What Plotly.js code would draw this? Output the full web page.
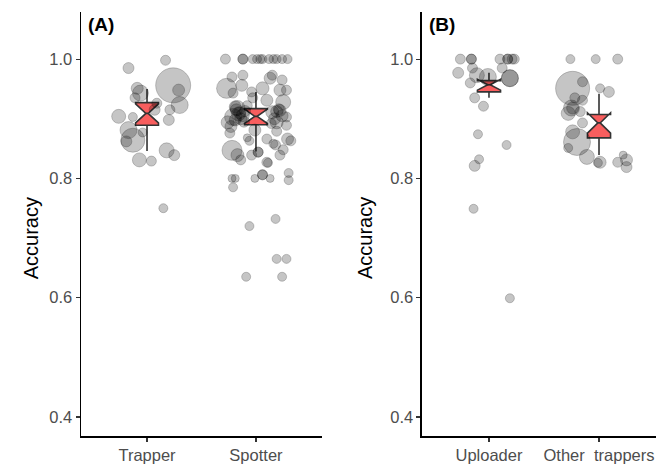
<!DOCTYPE html>
<html>
<head>
<meta charset="utf-8">
<script src="https://cdn.plot.ly/plotly-3.0.1.min.js"></script>
<style>html,body{margin:0;padding:0;background:#fff}#chart{width:656px;height:464px}</style>
</head>
<body>
<div id="chart"></div>
<script>
// ---------- categories ----------
const catsA = ["Trapper", "Spotter"];
const catsB = ["Uploader", "Other  trappers"];
const yTicks = [0.4, 0.6, 0.8, 1.0];
const yTickText = ["0.4", "0.6", "0.8", "1.0"];

// ---------- points: accuracy, jitter offset (category units), point size ----------
const trapperAcc = [0.998,0.985,0.956,0.948,0.923,0.951,0.943,0.935,0.915,0.915,0.898,0.904,0.903,0.881,0.864,0.862,0.877,0.847,0.839,0.831,0.829,0.750,0.926];
const trapperJit = [0.17,-0.17,0.24,0.29,0.30,-0.09,-0.06,-0.11,0.07,0.21,0.20,-0.26,-0.13,-0.17,-0.13,-0.19,-0.04,0.18,0.25,-0.07,0.04,0.15,0.09];
const trapperSize = [10,11,35,12,17,12,16,10,11,10,11,14,9,17,24,11,9,15,11,14,10,9,10];

const spotterAcc = [1.0,1.0,1.0,1.0,1.0,1.0,1.0,1.0,1.0,1.0,1.0,1.0,
  0.973,0.970,0.973,0.968,0.965,0.951,0.956,0.951,0.948,0.948,0.943,0.945,0.935,0.931,0.928,
  0.918,0.915,0.903,0.906,0.894,0.911,0.914,0.903,0.894,0.881,0.889,
  0.910,0.920,0.895,0.900,0.912,0.905,
  0.908,0.898,0.913,0.887,0.922,0.900,0.916,0.892,
  0.876,0.863,0.863,0.866,0.868,0.866,0.858,0.879,0.856,0.848,
  0.847,0.839,0.831,0.844,0.844,0.839,0.827,0.839,0.826,
  0.800,0.800,0.785,0.806,0.806,0.800,0.800,0.809,0.797,
  0.720,0.732,0.665,0.665,0.635,0.635];
const spotterJit = [-0.28,-0.12,-0.12,-0.03,0.01,0.04,0.06,0.12,0.16,0.19,0.24,0.29,
  -0.12,-0.22,0.15,0.13,0.24,-0.27,-0.13,0.06,0.22,0.28,-0.21,-0.04,-0.03,0.10,0.25,
  -0.17,-0.18,-0.21,-0.12,-0.26,0.15,0.22,0.28,0.19,-0.01,0.28,
  -0.15,-0.19,-0.11,-0.14,0.19,0.24,
  -0.16,-0.19,-0.10,-0.23,-0.08,0.17,0.21,0.14,
  -0.24,-0.06,0.32,0.29,-0.08,0.10,0.16,0.19,0.18,0.25,
  -0.22,-0.17,-0.14,0.02,0.02,-0.04,0.10,0.22,0.11,
  -0.22,-0.19,-0.21,0.06,0.06,-0.01,0.13,0.30,0.30,
  -0.06,0.18,0.19,0.28,-0.09,0.24];
const spotterSize = [10,10,10,9,9,9,9,9,9,9,9,9,
  10,10,10,12,10,20,12,13,12,10,10,10,10,12,15,
  15,12,17,13,13,13,12,10,13,12,10,
  12,12,11,12,12,12,
  14,12,11,12,10,12,11,10,
  10,9,10,12,8,10,9,10,10,10,
  20,13,10,10,10,10,10,10,9,
  8,8,9,10,10,8,8,9,9,
  9,9,9,9,9,9];

const uploaderAcc = [1.0,1.0,1.0,1.0,1.0,1.0,1.0,1.0,0.977,0.985,0.985,0.973,0.970,0.960,0.968,0.968,0.935,0.921,0.874,0.856,0.832,0.821,0.749,0.599];
const uploaderJit = [-0.26,-0.16,-0.16,0.10,0.17,0.17,0.21,0.23,-0.28,-0.15,0.12,-0.11,-0.01,-0.17,0.19,0.19,-0.13,-0.05,-0.10,0.16,-0.09,-0.13,-0.14,0.19];
const uploaderSize = [10,10,10,10,10,10,10,10,11,10,10,15,17,10,17,17,10,10,9,9,9,11,9,9];

const otherAcc = [1.0,1.0,1.0,0.951,0.962,0.951,0.945,0.918,0.918,0.909,0.931,0.935,0.912,0.893,0.861,0.878,0.851,0.836,0.827,0.826,0.827,0.831,0.819,0.839];
const otherJit = [-0.26,-0.03,0.17,-0.24,-0.15,0.01,0.09,-0.25,-0.24,-0.28,-0.15,-0.22,-0.17,-0.15,-0.20,-0.24,-0.28,-0.11,0.01,-0.01,0.17,0.25,0.25,0.22];
const otherSize = [9,9,10,34,10,9,11,16,12,14,10,10,10,10,27,14,9,15,12,9,10,12,11,8];

// ---------- box statistics (notched) ----------
const boxQ1 = [0.889, 0.890, 0.945, 0.868];
const boxMedian = [0.909, 0.904, 0.957, 0.893];
const boxQ3 = [0.927, 0.917, 0.964, 0.907];
const boxLower = [0.846, 0.845, 0.935, 0.839];
const boxUpper = [0.950, 0.945, 0.977, 0.942];
const boxNotch = [0.016, 0.012, 0.009, 0.017];

// ---------- styles ----------
const ptFill = "rgba(0,0,0,0.32)";
const ptLine = "rgba(0,0,0,0.3)";
const boxFill = "rgba(245,40,40,0.75)";
const boxLine = "#333333";
const FONT = "Liberation Sans, Arial, sans-serif";

function pts(catIdx, jit, acc, size, xa, ya) {
  return {
    type: "scatter", mode: "markers",
    x: jit.map(j => catIdx + j), y: acc,
    xaxis: xa, yaxis: ya, hoverinfo: "skip",
    marker: {size: size, sizemode: "diameter", color: ptFill, line: {color: ptLine, width: 1}},
    showlegend: false
  };
}
function box(catIdx, k, xa, ya) {
  return {
    type: "box", x: [catIdx], xaxis: xa, yaxis: ya,
    q1: [boxQ1[k]], median: [boxMedian[k]], q3: [boxQ3[k]],
    lowerfence: [boxLower[k]], upperfence: [boxUpper[k]], notchspan: [boxNotch[k]],
    notched: true, notchwidth: 0.45, width: 0.21, whiskerwidth: 0,
    fillcolor: boxFill, line: {color: boxLine, width: 1.6},
    boxpoints: false, showlegend: false, hoverinfo: "skip"
  };
}

const data = [
  pts(1, trapperJit, trapperAcc, trapperSize, "x", "y"),
  pts(2, spotterJit, spotterAcc, spotterSize, "x", "y"),
  box(1, 0, "x", "y"),
  box(2, 1, "x", "y"),
  pts(1, uploaderJit, uploaderAcc, uploaderSize, "x2", "y2"),
  pts(2, otherJit, otherAcc, otherSize, "x2", "y2"),
  box(1, 2, "x2", "y2"),
  box(2, 3, "x2", "y2")
];

const tickFont = {family: FONT, size: 16.5, color: "#4d4d4d"};
const xBase = {
  showline: true, linecolor: "#000", linewidth: 1.5, ticks: "outside", ticklen: 4,
  tickcolor: "#333", tickwidth: 1.2, showgrid: false, zeroline: false,
  tickvals: [1, 2], tickfont: tickFont, fixedrange: true
};
const yBase = {
  showline: true, linecolor: "#000", linewidth: 1.5, ticks: "outside", ticklen: 4,
  tickcolor: "#333", tickwidth: 1.2, showgrid: false, zeroline: false,
  range: [0.368, 1.079], tickvals: yTicks, ticktext: yTickText, tickfont: tickFont, fixedrange: true
};

const layout = {
  width: 656, height: 464,
  margin: {l: 81, r: 0, t: 12, b: 28},
  paper_bgcolor: "#fff", plot_bgcolor: "#fff",
  xaxis: Object.assign({}, xBase, {domain: [0, 0.4191], range: [0.394, 2.606], ticktext: catsA, anchor: "y"}),
  yaxis: Object.assign({}, yBase, {anchor: "x"}),
  xaxis2: Object.assign({}, xBase, {domain: [0.593, 1], range: [0.391, 2.518], ticktext: catsB, anchor: "y2"}),
  yaxis2: Object.assign({}, yBase, {anchor: "x2"}),
  annotations: [
    {text: "Accuracy", xref: "paper", yref: "paper", x: -0.109, y: 0.467, textangle: -90,
     showarrow: false, font: {family: FONT, size: 20, color: "#000"}},
    {text: "Accuracy", xref: "paper", yref: "paper", x: 0.494, y: 0.467, textangle: -90,
     showarrow: false, font: {family: FONT, size: 20, color: "#000"}},
    {text: "<b>(A)</b>", xref: "paper", yref: "paper", x: 0.009, y: 1.0, xanchor: "left", yanchor: "top",
     showarrow: false, font: {family: FONT, size: 19, color: "#000"}},
    {text: "<b>(B)</b>", xref: "paper", yref: "paper", x: 0.602, y: 1.0, xanchor: "left", yanchor: "top",
     showarrow: false, font: {family: FONT, size: 19, color: "#000"}}
  ]
};

Plotly.newPlot("chart", data, layout, {staticPlot: true, displayModeBar: false});
</script>
</body>
</html>
